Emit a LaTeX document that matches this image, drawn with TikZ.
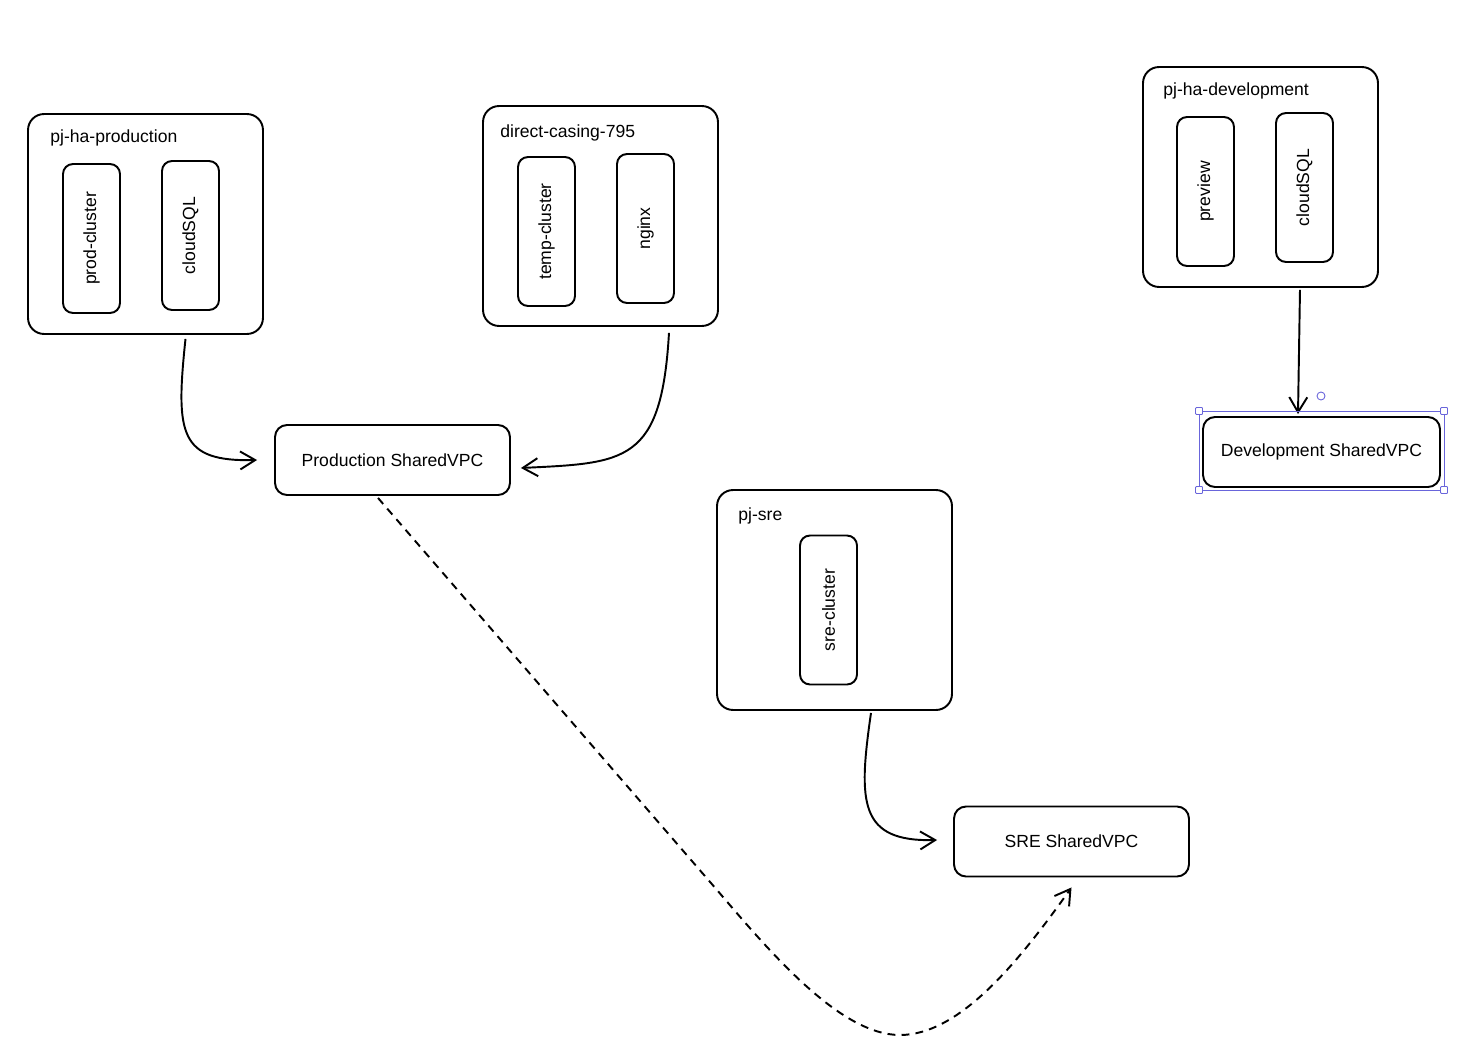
\documentclass[tikz,border=0pt]{standalone}
\usepackage{fontspec}
\setmainfont{Liberation Sans}
\usetikzlibrary{arrows.meta}
\definecolor{selblue}{RGB}{105,101,219}

\begin{document}
\begin{tikzpicture}[x=0.02cm, y=-0.02cm, font=\fontsize{10}{12}\selectfont,
	box/.style={shape=rectangle, draw, line width=1.1pt, rounded corners=0.32cm, minimum width=4.7cm, minimum height=4.4cm},
	pill/.style={shape=rectangle, draw, line width=1.1pt, rounded corners=0.2cm, rotate=90, minimum width=2.98cm, minimum height=1.14cm},
	vpc/.style={shape=rectangle, draw, line width=1.1pt, rounded corners=0.24cm, minimum width=4.7cm, minimum height=1.4cm},
	lbl/.style={anchor=west, inner sep=0pt},
	arr/.style={line width=1.1pt, -{Straight Barb[length=0.3cm, width=0.36cm]}},
	sel/.style={draw=selblue, line width=0.5pt}]
	\useasboundingbox[fill=white] (0, 0) rectangle (1482, 1051);
	\node[box](N1) at (145.5, 224){};
	\node[lbl](T1) at (50, 138){pj-ha-production};
	\node[pill](N11) at (91.5, 238.5){prod-cluster};
	\node[pill](N12) at (190.5, 235.5){cloudSQL};
	\node[box](N2) at (600.5, 216){};
	\node[lbl](T2) at (500, 133){direct-casing-795};
	\node[pill](N21) at (546.5, 231.5){temp-cluster};
	\node[pill](N22) at (645.5, 228.5){nginx};
	\node[box](N3) at (1260.5, 177){};
	\node[lbl](T3) at (1163, 91){pj-ha-development};
	\node[pill](N31) at (1205.5, 191.5){preview};
	\node[pill](N32) at (1304.5, 187.5){cloudSQL};
	\node[box](N6) at (834.5, 600){};
	\node[lbl](T6) at (738, 516){pj-sre};
	\node[pill](N61) at (828.5, 610){sre-cluster};
	\node[vpc](N4) at (392.5, 460){Production SharedVPC};
	\node[vpc, minimum width=4.74cm](N5) at (1321.5, 452){Development SharedVPC};
	\node[vpc](N7) at (1071.5, 841.5){SRE SharedVPC};
	\draw[arr] ([xshift=0.8cm, yshift=-0.08cm]N1.south) .. controls +(-0.2cm, -1.9cm) and +(-1.56cm, -0.04cm) .. ([xshift=-0.34cm]N4.west);
	\draw[arr] ([xshift=1.37cm, yshift=-0.12cm]N2.south) .. controls +(-0.15cm, -2.6cm) and +(2.1cm, 0.1cm) .. ([xshift=0.2cm, yshift=-0.16cm]N4.east);
	\draw[arr] ([xshift=0.79cm, yshift=-0.04cm]N3.south) -- ([xshift=-0.47cm, yshift=0.04cm]N5.north);
	\draw[arr] ([xshift=0.73cm, yshift=-0.04cm]N6.south) .. controls +(-0.26cm, -1.8cm) and +(-1.56cm, -0.04cm) .. ([xshift=-0.32cm, yshift=0.03cm]N7.west);
	\draw[arr, dash pattern={on 4.5pt off 3.5pt}] ([xshift=-0.29cm, yshift=-0.04cm]N4.south) -- (717, 890) .. controls (770, 952) and (840, 1035) .. (900, 1035) .. controls (960, 1035) and (1020, 960) .. ([yshift=-0.2cm]N7.south);
	\draw[sel] (1199, 411) rectangle (1444, 490);
	\foreach \hx/\hy in {1199/411, 1444/411, 1199/490, 1444/490}
		\draw[sel, fill=white, rounded corners=0.5pt] (\hx-3.5, \hy-3.5) rectangle (\hx+3.5, \hy+3.5);
	\draw[sel, fill=white] (1321, 396) circle (0.08cm);
\end{tikzpicture}
\end{document}
